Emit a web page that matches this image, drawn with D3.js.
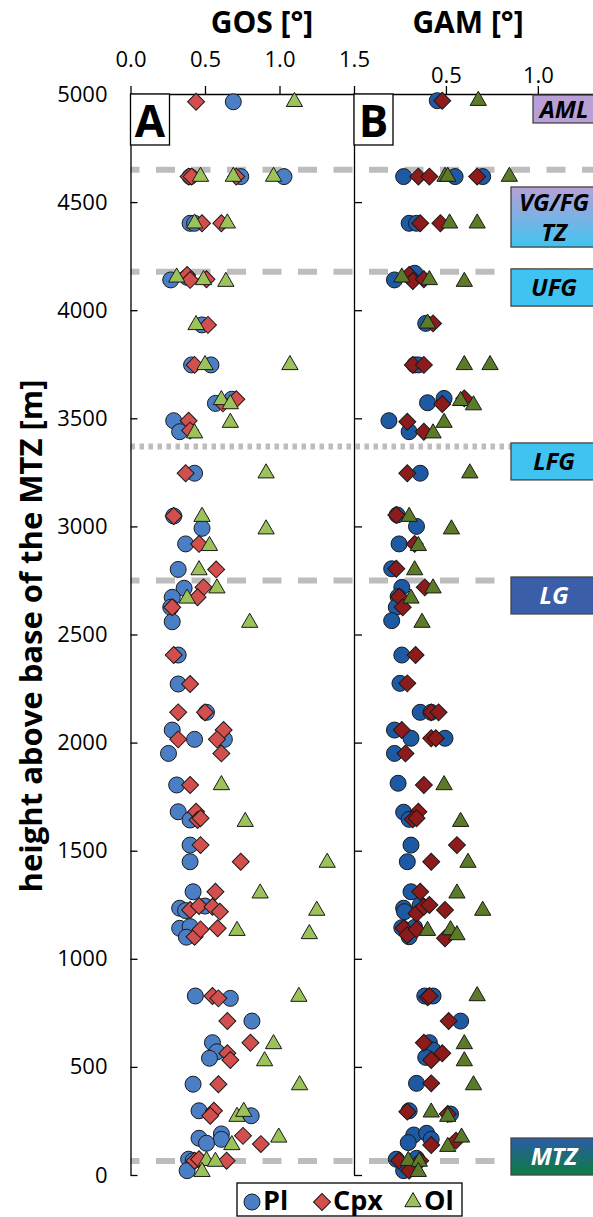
<!DOCTYPE html>
<html>
<head>
<meta charset="utf-8">
<script src="https://cdn.jsdelivr.net/npm/d3@7"></script>
<style>
  body { margin: 0; background: #fff; }
  svg { display: block; font-family: "Open Sans", "DejaVu Sans", sans-serif; }
  .tick text { font-size: 22px; fill: #000; }
  .domain, .tick line { stroke: #000; stroke-width: 1.3; }
</style>
</head>
<body>
<div id="chart-container"></div>
<script>
// GOS / GAM vs height in the MTZ section
// [height (m), value (deg)]
const gosPl = [
  [4964,0.69],[4618,0.40],[4618,0.74],[4618,1.03],[4402,0.40],[4402,0.43],
  [4140,0.27],[4152,0.38],[3932,0.48],[3747,0.41],[3747,0.54],
  [3569,0.57],[3588,0.68],[3489,0.29],[3438,0.33],[3246,0.43],
  [3048,0.29],[2991,0.48],[2919,0.37],[2801,0.32],[2714,0.36],[2672,0.28],[2626,0.27],[2559,0.28],
  [2405,0.32],[2271,0.32],[2140,0.51],[2058,0.28],[2015,0.43],[2015,0.63],[1950,0.255],
  [1804,0.31],[1680,0.32],[1642,0.40],[1526,0.40],[1449,0.40],[1310,0.42],
  [1234,0.33],[1223,0.37],[1244,0.50],[1141,0.33],[1149,0.40],[1100,0.375],
  [828,0.435],[817,0.67],[712,0.815],[612,0.55],[570,0.58],[540,0.53],[420,0.42],
  [297,0.46],[274,0.81],[190,0.61],[170,0.46],[165,0.61],[147,0.51],[73,0.39],[66,0.42],[20,0.38]
];
const gosCpx = [
  [4964,0.44],[4618,0.39],[4618,0.41],[4618,0.71],[4402,0.48],[4402,0.61],
  [4163,0.38],[4140,0.40],[4143,0.51],[3932,0.52],[3747,0.43],
  [3569,0.62],[3588,0.71],[3489,0.39],[3443,0.40],[3246,0.37],
  [3048,0.29],[2919,0.46],[2801,0.575],[2718,0.49],[2672,0.45],[2626,0.28],
  [2405,0.29],[2271,0.40],[2140,0.32],[2140,0.50],[2058,0.625],[2015,0.32],[2015,0.58],[1950,0.61],
  [1804,0.40],[1680,0.44],[1642,0.45],[1650,0.47],[1526,0.47],[1449,0.74],[1310,0.57],
  [1226,0.40],[1244,0.46],[1241,0.55],[1218,0.60],[1102,0.43],[1136,0.47],[1141,0.585],
  [828,0.55],[817,0.59],[712,0.65],[612,0.805],[563,0.65],[532,0.67],[420,0.59],
  [297,0.56],[274,0.535],[181,0.755],[143,0.875],[66,0.43],[73,0.46],[66,0.645]
];
const gosOl = [
  [4964,1.10],[4618,0.47],[4618,0.69],[4618,0.96],[4402,0.43],[4402,0.65],
  [4152,0.31],[4140,0.49],[4132,0.64],[3932,0.44],[3747,0.50],[3747,1.07],
  [3585,0.61],[3566,0.67],[3480,0.67],[3431,0.43],[3246,0.91],
  [3045,0.48],[2987,0.91],[2910,0.53],[2798,0.46],[2714,0.58],[2667,0.38],[2555,0.80],
  [1804,0.61],[1634,0.77],[1445,1.32],[1303,0.87],[1223,1.25],[1130,0.715],[1115,1.20],
  [825,1.13],[606,0.96],[527,0.90],[416,1.135],[270,0.715],[293,0.76],[139,0.68],[174,0.995],
  [66,0.51],[62,0.57],[15,0.48]
];
const gamPl = [
  [4969,0.453],[4618,0.27],[4618,0.55],[4618,0.70],[4402,0.30],[4402,0.34],
  [4140,0.22],[4171,0.33],[3939,0.39],[3747,0.33],[3747,0.35],
  [3572,0.40],[3592,0.49],[3489,0.19],[3438,0.30],[3246,0.36],
  [3053,0.235],[3000,0.34],[2919,0.245],[2804,0.205],[2718,0.26],[2675,0.24],[2626,0.23],[2564,0.205],
  [2405,0.26],[2274,0.25],[2140,0.36],[2140,0.42],[2058,0.22],[2020,0.31],[2020,0.495],[1950,0.22],
  [1812,0.24],[1678,0.27],[1645,0.30],[1526,0.31],[1449,0.29],[1310,0.31],
  [1234,0.27],[1218,0.275],[1248,0.36],[1144,0.26],[1102,0.30],[1145,0.33],
  [828,0.385],[828,0.43],[712,0.58],[612,0.41],[578,0.43],[544,0.39],[424,0.34],
  [297,0.30],[282,0.525],[185,0.325],[150,0.295],[193,0.395],[165,0.42],[77,0.34],[73,0.23],[20,0.27]
];
const gamCpx = [
  [4969,0.48],[4618,0.35],[4618,0.41],[4618,0.67],[4402,0.36],[4402,0.47],
  [4163,0.30],[4135,0.32],[4143,0.38],[3939,0.43],[3747,0.32],[3747,0.38],
  [3566,0.48],[3592,0.60],[3484,0.29],[3438,0.38],[3246,0.29],
  [3053,0.23],[2919,0.33],[2804,0.23],[2718,0.385],[2675,0.245],[2626,0.265],
  [2405,0.335],[2274,0.29],[2140,0.42],[2140,0.46],[2058,0.26],[2020,0.42],[2020,0.445],[1950,0.28],
  [1804,0.38],[1680,0.35],[1645,0.32],[1650,0.34],[1526,0.56],[1449,0.42],[1310,0.36],
  [1210,0.34],[1241,0.38],[1249,0.41],[1226,0.495],[1141,0.27],[1110,0.29],[1136,0.34],[1095,0.495],
  [822,0.40],[828,0.41],[712,0.515],[612,0.38],[563,0.48],[532,0.42],[424,0.42],
  [293,0.29],[282,0.51],[139,0.42],[159,0.555],[66,0.245],[66,0.36],[20,0.30]
];
const gamOl = [
  [4969,0.676],[4618,0.495],[4618,0.51],[4618,0.845],[4402,0.52],[4402,0.67],
  [4152,0.26],[4140,0.41],[4132,0.60],[3939,0.40],[3747,0.60],[3747,0.74],
  [3581,0.58],[3561,0.65],[3480,0.49],[3431,0.43],[3246,0.63],
  [3045,0.30],[2987,0.53],[2910,0.35],[2798,0.33],[2714,0.43],[2667,0.31],[2555,0.37],
  [1804,0.49],[1634,0.58],[1445,0.62],[1303,0.56],[1223,0.70],[1130,0.40],[1133,0.525],[1110,0.56],
  [828,0.67],[606,0.60],[527,0.60],[416,0.65],[290,0.42],[270,0.51],[131,0.51],[174,0.585],
  [66,0.295],[62,0.355],[15,0.35]
];

const yTicks = [0,500,1000,1500,2000,2500,3000,3500,4000,4500,5000];
const gosTicks = [0, 0.5, 1.0, 1.5];
const gamTicks = [0.5, 1.0];

// unit boundaries (m) and zone labels
const boundaries = [4650, 4178, 3370, 2750, 65];
const boundaryDotted = [false, false, true, false, false];
const zoneNames = ["AML", "VG/FG|TZ", "UFG", "LFG", "LG", "MTZ"];
const zoneTop = [4995, 4570, 4191, 3386, 2766, 171];
const zoneBottom = [4866, 4292, 4019, 3215, 2595, 0];

(function() {
  const width = 593, height = 1217;

  const svg = d3.select('#chart-container')
    .append("svg")
    .attr("width", width)
    .attr("height", height);

  const defs = svg.append("defs");
  const grad1 = defs.append("linearGradient").attr("id", "gVG")
    .attr("x1", 0).attr("y1", 0).attr("x2", 0).attr("y2", 1);
  grad1.append("stop").attr("offset", "0%").attr("stop-color", "#b8a0d6");
  grad1.append("stop").attr("offset", "100%").attr("stop-color", "#40c3f0");
  const grad2 = defs.append("linearGradient").attr("id", "gMTZ")
    .attr("x1", 0).attr("y1", 0).attr("x2", 0).attr("y2", 1);
  grad2.append("stop").attr("offset", "0%").attr("stop-color", "#2b5ca6");
  grad2.append("stop").attr("offset", "100%").attr("stop-color", "#0c7d42");

  const y = d3.scaleLinear().domain([0, 5000]).range([1175, 94]);
  const xA = d3.scaleLinear().domain([0, 1.5]).range([130.5, 354]);
  const xB = d3.scaleLinear().domain([0, 1.3]).range([354, 593]);

  // boundary lines
  svg.selectAll(".bound")
    .data(boundaries)
    .enter()
    .append("line")
    .attr("x1", 130.5)
    .attr("x2", width)
    .attr("y1", d => y(d))
    .attr("y2", d => y(d))
    .attr("stroke", "#bdbdbd")
    .attr("stroke-width", 6)
    .attr("stroke-dasharray", (d, i) => boundaryDotted[i] ? "4.5,4.5" : "19,16.5")
    .attr("stroke-dashoffset", (d, i) => boundaryDotted[i] ? 0 : 10);

  // axes
  svg.append("g")
    .attr("transform", "translate(0,94)")
    .call(d3.axisTop(xA).tickValues(gosTicks).tickSize(8).tickSizeOuter(0)
      .tickPadding(19).tickFormat(d3.format(".1f")));
  svg.append("g")
    .attr("transform", "translate(0,94)")
    .call(d3.axisTop(xB).tickValues(gamTicks).tickSize(8).tickSizeOuter(0)
      .tickPadding(3).tickFormat(d3.format(".1f")));

  svg.append("g")
    .attr("transform", "translate(130.5,0)")
    .call(d3.axisLeft(y).tickValues(yTicks).tickSize(-7).tickSizeOuter(0)
      .tickPadding(23).tickFormat(d3.format("d")));
  svg.append("g")
    .attr("transform", "translate(354,0)")
    .call(d3.axisLeft(y).tickValues(yTicks).tickSize(-8).tickSizeOuter(0)
      .tickFormat(""));

  svg.selectAll(".tick text").attr("font-family", "'Open Sans', sans-serif");

  // titles
  svg.append("text").attr("x", 262).attr("y", 33)
    .attr("text-anchor", "middle").style("font-size", "30px").style("font-weight", 700)
    .text("GOS [°]");
  svg.append("text").attr("x", 468).attr("y", 33)
    .attr("text-anchor", "middle").style("font-size", "30px").style("font-weight", 700)
    .text("GAM [°]");
  svg.append("text")
    .attr("transform", "translate(42,636) rotate(-90)")
    .attr("text-anchor", "middle").style("font-size", "31px").style("font-weight", 700)
    .text("height above base of the MTZ [m]");

  // panel letters
  [["A", 130.5], ["B", 354]].forEach(([t, x0]) => {
    svg.append("rect").attr("x", x0).attr("y", 94).attr("width", 39).attr("height", 51)
      .attr("fill", "#fff").attr("stroke", "#000").attr("stroke-width", 1.3);
    svg.append("text").attr("x", x0 + 19.5).attr("y", 137)
      .attr("text-anchor", "middle").style("font-size", "44px").style("font-weight", 700)
      .text(t);
  });

  // zone boxes
  const zoneFill = ["#b8a0d6", "url(#gVG)", "#40c3f0", "#40c3f0", "#3b5ea9", "url(#gMTZ)"];
  const zoneInk = ["#000", "#000", "#000", "#000", "#fff", "#fff"];
  zoneNames.forEach((name, i) => {
    const x0 = i === 0 ? 533 : 511;
    const y0 = y(zoneTop[i]), y1 = y(zoneBottom[i]);
    svg.append("rect").attr("x", x0).attr("y", y0)
      .attr("width", width - x0 + 5).attr("height", y1 - y0)
      .attr("fill", zoneFill[i]).attr("stroke", "#444").attr("stroke-width", 1.3);
    const lines = name.split("|");
    const cx = i === 0 ? 564 : 554;
    const mid = (y0 + y1) / 2;
    lines.forEach((ln, k) => {
      svg.append("text")
        .attr("x", cx)
        .attr("y", mid + 8.5 + (k - (lines.length - 1) / 2) * 30)
        .attr("text-anchor", "middle")
        .style("font-size", "24px").style("font-weight", 700).style("font-style", "italic")
        .attr("fill", zoneInk[i])
        .text(ln);
    });
  });

  // markers
  const circle = d3.symbol().type(d3.symbolCircle).size(Math.PI * 64);
  const square = d3.symbol().type(d3.symbolSquare).size(144);
  const tri = d3.symbol().type(d3.symbolTriangle).size(115);

  function plot(data, x, path, fill, rot) {
    svg.append("g").selectAll("path")
      .data(data)
      .enter()
      .append("path")
      .attr("d", path)
      .attr("transform", d => `translate(${x(d[1])},${y(d[0])})` + (rot ? " rotate(45)" : ""))
      .attr("fill", fill)
      .attr("stroke", "#1a1a1a")
      .attr("stroke-width", 1);
  }

  const colA = ["#4a7fc6", "#d24f4d", "#9cc25a"];
  const colB = ["#1d5aa3", "#8e1b1b", "#5b7b28"];

  plot(gosPl, xA, circle, colA[0]);
  plot(gosCpx, xA, square, colA[1], true);
  plot(gosOl, xA, tri, colA[2]);
  plot(gamPl, xB, circle, colB[0]);
  plot(gamCpx, xB, square, colB[1], true);
  plot(gamOl, xB, tri, colB[2]);

  // legend
  const legend = svg.append("g");
  legend.append("rect").attr("x", 237).attr("y", 1183).attr("width", 225).attr("height", 33)
    .attr("fill", "#fff").attr("stroke", "#000").attr("stroke-width", 1.3);
  const items = [["Pl", circle, false, 252], ["Cpx", square, true, 322], ["Ol", tri, false, 413]];
  items.forEach(([label, path, rot, lx], i) => {
    legend.append("path").attr("d", path)
      .attr("transform", `translate(${lx},1202)` + (rot ? " rotate(45)" : ""))
      .attr("fill", colA[i]).attr("stroke", "#1a1a1a").attr("stroke-width", 1);
    legend.append("text").attr("x", lx + 11).attr("y", 1210)
      .style("font-size", "27px").style("font-weight", 700)
      .text(label);
  });
})();
</script>
</body>
</html>
